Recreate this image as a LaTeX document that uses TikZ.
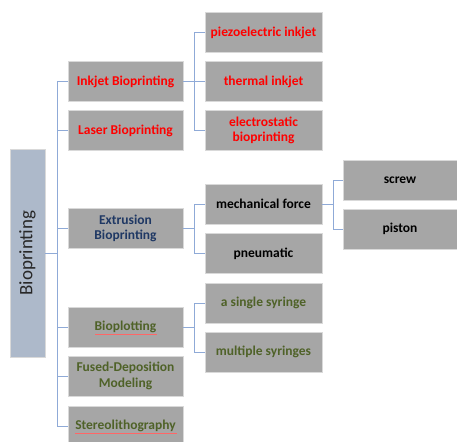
\documentclass[tikz,border=0pt]{standalone}
\usepackage{fontspec}
\setmainfont{Carlito}
\definecolor{boxgray}{RGB}{166,166,166}
\definecolor{boxedge}{RGB}{217,217,217}
\definecolor{rootfill}{RGB}{173,185,202}
\definecolor{connblue}{RGB}{143,170,215}
\definecolor{txtred}{RGB}{255,0,0}
\definecolor{txtnavy}{RGB}{31,56,100}
\definecolor{txtgreen}{RGB}{79,98,40}
\definecolor{txtdark}{RGB}{40,40,40}
\tikzset{
  box/.style={draw=boxedge, line width=0.8pt, fill=boxgray, anchor=center, align=center,
    inner sep=1pt, font=\fontsize{13.5}{15.5}\selectfont\bfseries},
  lone/.style={box, minimum width=115pt, minimum height=40pt},
  ltwo/.style={box, minimum width=117pt, minimum height=40pt},
  lthree/.style={box, minimum width=114pt, minimum height=40pt},
  conn/.style={draw=connblue, line width=0.9pt},
  spell/.style={draw=red!60, line width=0.5pt}
}
\begin{document}
\begin{tikzpicture}[x=1pt,y=-1pt]
\useasboundingbox (0,0) rectangle (457,441);
\fill[white] (0,0) rectangle (457,441);
% root
\node[draw=boxedge, line width=0.8pt, fill=rootfill, minimum width=35pt, minimum height=208pt, inner sep=0pt] (root) at (27.5,253)
  {\rotatebox{90}{\fontsize{19}{22}\selectfont\color{txtdark}Bioprinting}};
% level 1
\node[lone, text=txtred] (inkjet) at (125.5,81.5) {Inkjet Bioprinting};
\node[lone, text=txtred] (laser) at (125.5,130.5) {Laser Bioprinting};
\node[lone, text=txtnavy] (extr) at (125.5,228.5) {Extrusion\\Bioprinting};
\node[lone, text=txtgreen] (bioplot) at (125.5,327) {Bioplotting};
\node[lone, text=txtgreen] (fused) at (125.5,376) {Fused-Deposition\\Modeling};
\node[lone, text=txtgreen] (stereo) at (125.5,426) {Stereolithography};
% level 2
\node[ltwo, text=txtred] (piezo) at (263.5,32.5) {piezoelectric inkjet};
\node[ltwo, text=txtred] (thermal) at (263.5,81.5) {thermal inkjet};
\node[ltwo, text=txtred] (electro) at (263.5,130.5) {electrostatic\\bioprinting};
\node[ltwo, text=black] (mech) at (263.5,204) {mechanical force};
\node[ltwo, text=black] (pneu) at (263.5,253.5) {pneumatic};
\node[ltwo, text=txtgreen] (single) at (263.5,303) {a single syringe};
\node[ltwo, text=txtgreen] (multi) at (263.5,352) {multiple syringes};
% level 3
\node[lthree, text=black] (screw) at (400,180) {screw};
\node[lthree, text=black] (piston) at (400,229) {piston};
% connectors
\foreach \c in {inkjet,laser,extr,bioplot,fused,stereo}
  \draw[conn] (root.east) -- +(12,0) |- (\c.west);
\foreach \c in {piezo,thermal,electro}
  \draw[conn] (inkjet.east) -- +(11,0) |- (\c.west);
\foreach \c in {mech,pneu}
  \draw[conn] (extr.east) -- +(11,0) |- (\c.west);
\foreach \c in {single,multi}
  \draw[conn] (bioplot.east) -- +(11,0) |- (\c.west);
\foreach \c in {screw,piston}
  \draw[conn] (mech.east) -- +(11,0) |- (\c.west);
% spell-check underlines
\draw[spell] (95,334) -- (157,334);
\draw[spell] (75,433) -- (177,433);
\end{tikzpicture}
\end{document}
